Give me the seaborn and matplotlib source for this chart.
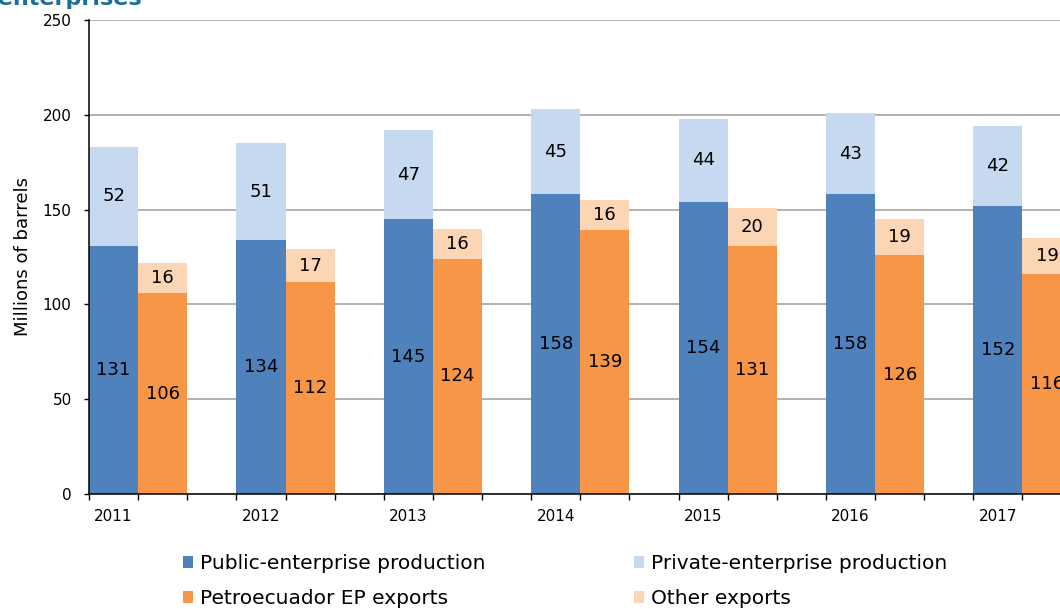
import matplotlib
matplotlib.use("Agg")
import matplotlib.pyplot as plt
from matplotlib.patches import Patch
import numpy as np
import pandas as pd
import seaborn as sns

# Crude oil production and exports, millions of barrels
years = ["2011", "2012", "2013", "2014", "2015", "2016", "2017"]
public_production = [131, 134, 145, 158, 154, 158, 152]
private_production = [52, 51, 47, 45, 44, 43, 42]
petroecuador_exports = [106, 112, 124, 139, 131, 126, 116]
other_exports = [16, 17, 16, 16, 20, 19, 19]

series_names = ["Public-enterprise production", "Private-enterprise production",
                "Petroecuador EP exports", "Other exports"]
colors = ["#4F81BD", "#C6D9F1", "#F79646", "#FCD5B5"]

sns.set_theme(style="white")
plt.rcParams["font.family"] = ["DejaVu Sans"]
plt.rcParams.update({"text.color": "black", "axes.labelcolor": "black",
                     "xtick.color": "black", "ytick.color": "black"})

# each year takes three slots: production bar, exports bar, gap
n = len(years)
slot_order = list(range(3 * n))
prod_slot = [3 * i for i in range(n)]
exp_slot = [3 * i + 1 for i in range(n)]

df = pd.DataFrame({
    "slot": prod_slot + exp_slot,
    "base": public_production + petroecuador_exports,
    "top": private_production + other_exports,
    "kind": ["production"] * n + ["exports"] * n,
})
df["total"] = df["base"] + df["top"]

fig = plt.figure(figsize=(10.6, 6.09), dpi=100)
slot_px = 49.13
ax = fig.add_axes([89 / 1060, 115 / 609, 3 * n * slot_px / 1060, 474 / 609])

ax.yaxis.grid(True, color="#ababab", linewidth=1.3)
ax.set_axisbelow(True)

prod = df[df["kind"] == "production"]
expo = df[df["kind"] == "exports"]
bar_kw = dict(order=slot_order, width=1.0, saturation=1, errorbar=None,
              linewidth=0, ax=ax)
sns.barplot(data=prod, x="slot", y="total", color=colors[1], **bar_kw)
sns.barplot(data=prod, x="slot", y="base", color=colors[0], **bar_kw)
sns.barplot(data=expo, x="slot", y="total", color=colors[3], **bar_kw)
sns.barplot(data=expo, x="slot", y="base", color=colors[2], **bar_kw)

# segment value labels
for _, r in df.iterrows():
    ax.text(r["slot"], r["base"] / 2, f"{r['base']}", ha="center", va="center",
            fontsize=13, color="black")
    ax.text(r["slot"], r["base"] + r["top"] / 2, f"{r['top']}", ha="center",
            va="center", fontsize=13, color="black")

ax.set_xlim(-0.5, 3 * n - 0.5)
ax.set_ylim(0, 250)
ax.set_yticks([0, 50, 100, 150, 200, 250])
ax.tick_params(axis="y", which="major", length=3.5, width=1, color="black",
               direction="out", pad=9, labelsize=11, left=True)

ax.set_xticks(np.arange(-0.5, 3 * n, 1.0))
ax.set_xticklabels([])
ax.set_xticks(prod_slot, minor=True)
ax.set_xticklabels(years, minor=True)
ax.tick_params(axis="x", which="major", length=4.3, width=1, color="black",
               direction="out", bottom=True)
ax.tick_params(axis="x", which="minor", length=0, pad=11, labelsize=11)
ax.set_xlabel("")
ax.set_ylabel("Millions of barrels", fontsize=13, labelpad=8)

for side in ["top", "right"]:
    ax.spines[side].set_visible(False)
for side in ["left", "bottom"]:
    ax.spines[side].set_color("black")
    ax.spines[side].set_linewidth(1.1)

# legend laid out row by row: production pair on top, exports pair below
order = [0, 2, 1, 3]
handles = [Patch(facecolor=colors[i], edgecolor="none") for i in order]
labels = [series_names[i] for i in order]
fig.legend(handles, labels, ncol=2, frameon=False, fontsize=14.5,
           loc="upper left", bbox_to_anchor=(165 / 1060, 1 - 536 / 609),
           handlelength=0.5, handleheight=0.5, handletextpad=0.35,
           columnspacing=7.36, labelspacing=0.8, labelcolor="black")

fig.text(142 / 1060, 1 - 5 / 609, "Crude oil production and exports by public and private enterprises",
         ha="right", va="baseline", fontsize=16, fontweight="bold", color="#1B6F97")

fig.savefig("out.png", dpi=100)
